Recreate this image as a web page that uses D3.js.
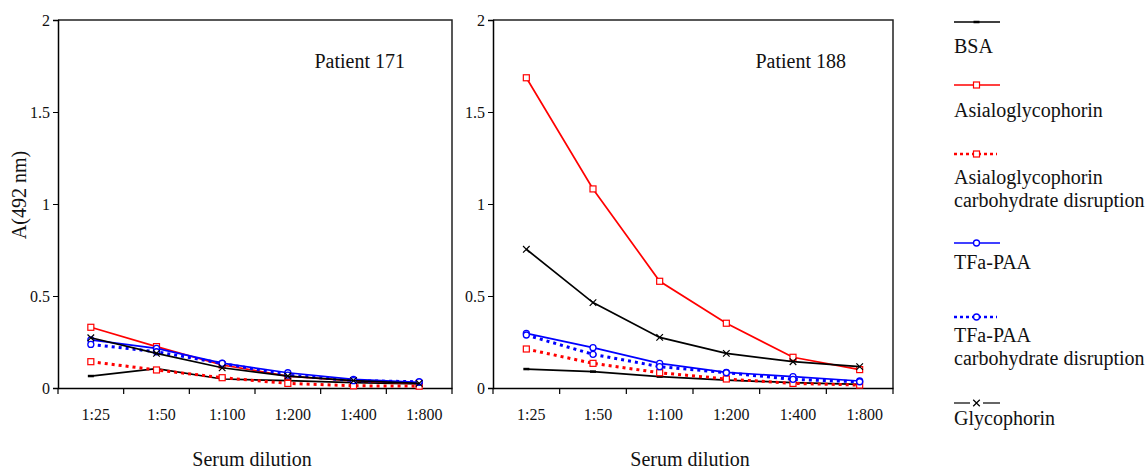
<!DOCTYPE html>
<html>
<head>
<meta charset="utf-8">
<script src="https://cdn.jsdelivr.net/npm/d3@7"></script>
<style>
  body { margin: 0; background: #fff; }
  svg { display: block; }
  svg text { font-family: "Liberation Serif", "Times New Roman", serif; }
</style>
</head>
<body>
<svg id="chart" width="1147" height="472"></svg>
<script>
// x categories and y ticks
const dilutions = ['1:25', '1:50', '1:100', '1:200', '1:400', '1:800'];
const yTicks = [0, 0.5, 1, 1.5, 2];

// Patient 171, A(492 nm) per dilution
const bsa171 = [0.065, 0.105, 0.049, 0.040, 0.029, 0.022];
const asialo171 = [0.330, 0.225, 0.125, 0.065, 0.038, 0.025];
const asialoCarb171 = [0.143, 0.098, 0.056, 0.025, 0.012, 0.010];
const tfa171 = [0.262, 0.215, 0.135, 0.083, 0.047, 0.031];
const tfaCarb171 = [0.237, 0.197, 0.134, 0.070, 0.040, 0.034];
const glyco171 = [0.273, 0.188, 0.110, 0.065, 0.040, 0.025];

// Patient 188
const bsa188 = [0.103, 0.089, 0.062, 0.043, 0.029, 0.020];
const asialo188 = [1.686, 1.082, 0.580, 0.352, 0.167, 0.100];
const asialoCarb188 = [0.212, 0.134, 0.083, 0.049, 0.025, 0.016];
const tfa188 = [0.297, 0.219, 0.134, 0.085, 0.062, 0.038];
const tfaCarb188 = [0.288, 0.183, 0.116, 0.083, 0.047, 0.034];
const glyco188 = [0.754, 0.464, 0.275, 0.188, 0.143, 0.116];

const seriesNames = ['BSA', 'Asialoglycophorin', 'Asialoglycophorin carbohydrate disruption',
  'TFa-PAA', 'TFa-PAA carbohydrate disruption', 'Glycophorin'];

// styles per series
const styles = [
  {color: '#000', dash: null, marker: 'dash'},
  {color: '#ff0000', dash: null, marker: 'square'},
  {color: '#ff0000', dash: '3,4', marker: 'square'},
  {color: '#0000ff', dash: null, marker: 'circle'},
  {color: '#0000ff', dash: '3,4', marker: 'circle'},
  {color: '#000', dash: null, marker: 'x'}
];

const panels = [
  {title: 'Patient 171', left: 58, right: 452,
    series: [bsa171, asialo171, asialoCarb171, tfa171, tfaCarb171, glyco171]},
  {title: 'Patient 188', left: 493, right: 893,
    series: [bsa188, asialo188, asialoCarb188, tfa188, tfaCarb188, glyco188]}
];

const plotTop = 20;
const plotBottom = 388;
const serif = '"Liberation Serif", "Times New Roman", serif';
const svg = d3.select('#chart');

const y = d3.scaleLinear().domain([0, 2]).range([plotBottom, plotTop]);

function drawMarker(g, type, color, px, py) {
  if (type === 'square') {
    g.append('rect')
      .attr('x', px - 3).attr('y', py - 3)
      .attr('width', 6).attr('height', 6)
      .attr('fill', '#fff').attr('stroke', color).attr('stroke-width', 1.2);
  } else if (type === 'circle') {
    g.append('circle')
      .attr('cx', px).attr('cy', py).attr('r', 3)
      .attr('fill', '#fff').attr('stroke', color).attr('stroke-width', 1.3);
  } else if (type === 'x') {
    g.append('path')
      .attr('transform', `translate(${px},${py})`)
      .attr('d', d3.symbol(d3.symbolX, 30)())
      .attr('fill', 'none').attr('stroke', color).attr('stroke-width', 1.2);
  } else if (type === 'dash') {
    g.append('line')
      .attr('x1', px - 3).attr('x2', px + 3)
      .attr('y1', py).attr('y2', py)
      .attr('stroke', color).attr('stroke-width', 2.5);
  }
}

panels.forEach(p => {
  const x = d3.scaleBand()
    .domain(dilutions)
    .range([p.left, p.right])
    .padding(0);
  const cx = d => x(d) + x.bandwidth() / 2;

  const g = svg.append('g');

  // frame: top and right
  g.append('path')
    .attr('d', `M${p.left},${plotTop}H${p.right}V${plotBottom}`)
    .attr('fill', 'none').attr('stroke', '#222').attr('stroke-width', 1.5);

  // y axis
  const yAxis = g.append('g')
    .attr('transform', `translate(${p.left},0)`)
    .call(d3.axisLeft(y).tickValues(yTicks).tickSize(5).tickPadding(3).tickFormat(d => String(d)));
  yAxis.select('.domain').attr('stroke', '#000').attr('stroke-width', 1.5);
  yAxis.selectAll('text')
    .style('font-family', serif).style('font-size', '16px').attr('fill', '#111');

  // x axis: line, boundary ticks, labels
  const xAxis = g.append('g')
    .attr('transform', `translate(0,${plotBottom})`)
    .call(d3.axisBottom(x).tickSize(0).tickPadding(21));
  xAxis.select('.domain').attr('stroke', '#000').attr('stroke-width', 1.5);
  xAxis.selectAll('text')
    .attr('dx', 5)
    .style('font-family', serif).style('font-size', '16px').attr('fill', '#111');
  xAxis.selectAll('.bound')
    .data(dilutions.map(d => x(d)).concat([x.range()[1]]))
    .enter().append('line')
      .attr('class', 'bound')
      .attr('x1', d => d).attr('x2', d => d)
      .attr('y1', 0).attr('y2', 6)
      .attr('stroke', '#000').attr('stroke-width', 1.2);

  // axis title
  g.append('text')
    .attr('x', (p.left + p.right) / 2 - 3)
    .attr('y', 466)
    .attr('text-anchor', 'middle')
    .style('font-family', serif).style('font-size', '20px')
    .attr('fill', '#111')
    .text('Serum dilution');

  // panel title
  g.append('text')
    .attr('x', p.right - 47)
    .attr('y', 68)
    .attr('text-anchor', 'end')
    .style('font-family', serif).style('font-size', '20px')
    .attr('fill', '#111')
    .text(p.title);

  const line = d3.line()
    .x((d, i) => cx(dilutions[i]))
    .y(d => y(d));

  p.series.forEach((vals, si) => {
    const st = styles[si];
    const sg = g.append('g');
    sg.append('path')
      .datum(vals)
      .attr('d', line)
      .attr('fill', 'none')
      .attr('stroke', st.color)
      .attr('stroke-width', st.dash ? 3 : 1.7)
      .attr('stroke-dasharray', st.dash);
    vals.forEach((v, i) => drawMarker(sg, st.marker, st.color, cx(dilutions[i]), y(v)));
  });
});

// y axis title
svg.append('text')
  .attr('transform', 'translate(26,195) rotate(-90)')
  .attr('text-anchor', 'middle')
  .style('font-family', serif).style('font-size', '20px')
  .attr('fill', '#111')
  .text('A(492 nm)');

// legend
const legendLayout = [
  {lineY: 22, textY: [53]},
  {lineY: 85, textY: [117]},
  {lineY: 154, textY: [184, 207]},
  {lineY: 243, textY: [269]},
  {lineY: 317, textY: [342, 365]},
  {lineY: 403, textY: [425]}
];

const legend = svg.append('g');
seriesNames.forEach((name, i) => {
  const st = styles[i];
  const pos = legendLayout[i];
  const lg = legend.append('g');
  const x0 = 954;
  const x1 = st.dash ? 997 : 1000;
  if (st.marker === 'x') {
    lg.append('line').attr('x1', x0).attr('x2', x0 + 16).attr('y1', pos.lineY).attr('y2', pos.lineY)
      .attr('stroke', st.color).attr('stroke-width', 1.2);
    lg.append('line').attr('x1', x0 + 29).attr('x2', x1).attr('y1', pos.lineY).attr('y2', pos.lineY)
      .attr('stroke', st.color).attr('stroke-width', 1.2);
  } else {
    lg.append('line')
      .attr('x1', x0).attr('x2', x1)
      .attr('y1', pos.lineY).attr('y2', pos.lineY)
      .attr('stroke', st.color)
      .attr('stroke-width', st.dash ? 2.5 : 1.3)
      .attr('stroke-dasharray', st.dash ? '3,3' : null);
  }
  drawMarker(lg, st.marker, st.color, 976.5, pos.lineY);
  const lines = name.indexOf(' carbohydrate') > 0
    ? [name.replace(' carbohydrate disruption', ''), 'carbohydrate disruption']
    : [name];
  lines.forEach((t, k) => {
    lg.append('text')
      .attr('x', x0)
      .attr('y', pos.textY[k])
      .style('font-family', serif).style('font-size', '20px')
      .attr('fill', '#111')
      .text(t);
  });
});
</script>
</body>
</html>
